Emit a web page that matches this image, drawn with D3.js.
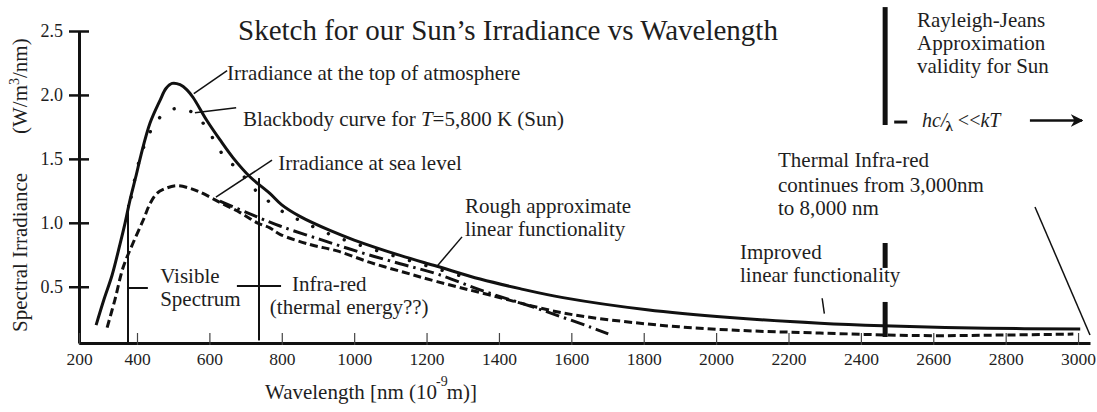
<!DOCTYPE html>
<html>
<head>
<meta charset="utf-8">
<script src="https://cdn.jsdelivr.net/npm/d3@7"></script>
<style>
  body { margin: 0; background: #fff; }
  svg { display: block; font-family: "Liberation Serif", "Times New Roman", serif; }
  text { fill: #1e1e1e; }
</style>
</head>
<body>
<div id="chart"></div>
<script>
// Wavelength (nm) / spectral irradiance (W/m^2/nm)
const topOfAtmosphere = [[259,0.20],[286,0.40],[314,0.59],[341,0.83],[359,1.00],[376,1.18],[397,1.37],[411,1.53],[436,1.78],[464,1.96],[480,2.05],[497,2.09],[519,2.08],[538,2.04],[555,1.98],[593,1.80],[629,1.65],[665,1.51],[712,1.36],[767,1.23],[800,1.14],[850,1.05],[933,0.94],[1000,0.865],[1127,0.745],[1229,0.66],[1348,0.56],[1458,0.485],[1577,0.415],[1809,0.32],[2038,0.26],[2287,0.215],[2461,0.195],[2749,0.175],[3006,0.17]]
const blackbody = [[380,1.20],[397,1.39],[411,1.53],[430,1.67],[455,1.80],[500,1.89],[549,1.87],[588,1.76],[616,1.63],[643,1.51],[682,1.41],[715,1.29],[754,1.19],[801,1.09],[864,1.00],[933,0.91],[1000,0.84],[1100,0.75],[1229,0.64],[1300,0.58]]
const seaLevel = [[297,0.18],[324,0.40],[352,0.65],[386,0.84],[417,1.02],[436,1.15],[455,1.23],[480,1.27],[511,1.29],[546,1.27],[574,1.24],[629,1.16],[685,1.08],[732,1.00],[767,0.96],[795,0.91],[878,0.83],[953,0.78],[1044,0.69],[1135,0.615],[1229,0.54],[1375,0.435],[1577,0.295],[1809,0.209],[2038,0.162],[2287,0.138],[2564,0.118],[2785,0.122],[2987,0.13]]
const roughLinear = [[629,1.17],[712,1.07],[795,0.975],[906,0.87],[1016,0.77],[1127,0.68],[1229,0.60],[1356,0.467],[1486,0.349],[1574,0.263],[1652,0.185],[1702,0.131]]

const xTicks = [200,400,600,800,1000,1200,1400,1600,1800,2000,2200,2400,2600,2800,3000]
const yTicks = [0.5,1.0,1.5,2.0,2.5]

// Annotation anchors, in data units
const visibleEdge = 369
const infraRedEdge = 737
const rayleighJeans = 2467

const width = 1097
const height = 412

const svg = d3.select('#chart')
  .append('svg')
  .attr('width', width)
  .attr('height', height)

// the sketch's axis is not quite evenly spaced below 400 nm
const x = d3.scaleLinear().domain([200, 400, 3033]).range([79, 137, 1090])
const y = d3.scaleLinear().domain([0.06, 2.5]).range([343, 31])

const line = d3.line()
  .x(d => x(d[0]))
  .y(d => y(d[1]))
  .curve(d3.curveCatmullRom.alpha(0.5))

// Curves
svg.append('path').datum(topOfAtmosphere)
  .attr('d', line).attr('fill', 'none').attr('stroke', '#111')
  .attr('stroke-width', 3)

svg.append('path').datum(blackbody)
  .attr('d', line).attr('fill', 'none').attr('stroke', '#111')
  .attr('stroke-width', 3.4).attr('stroke-linecap', 'round')
  .attr('stroke-dasharray', '0.1,17')

svg.append('path').datum(seaLevel)
  .attr('d', line).attr('fill', 'none').attr('stroke', '#111')
  .attr('stroke-width', 3).attr('stroke-dasharray', '8,4')

svg.append('path').datum(roughLinear)
  .attr('d', line).attr('fill', 'none').attr('stroke', '#111')
  .attr('stroke-width', 3).attr('stroke-dasharray', '14,5,2.5,5')

// Axes
const yAxis = svg.append('g')
  .attr('transform', `translate(${x(200)},0)`)
  .call(d3.axisLeft(y).tickValues(yTicks).tickFormat(d3.format('.1f'))
    .tickSize(10).tickSizeOuter(0).tickPadding(6))
yAxis.attr('font-family', null).attr('font-size', 18)
yAxis.select('.domain').attr('stroke', '#111').attr('stroke-width', 3)
yAxis.selectAll('.tick line').attr('x1', 10).attr('stroke', '#111').attr('stroke-width', 2.5)
yAxis.selectAll('.tick text').attr('fill', '#333')

const xAxis = svg.append('g')
  .attr('transform', `translate(0,${y(0.06)})`)
  .call(d3.axisBottom(x).tickValues(xTicks).tickFormat(d3.format('d'))
    .tickSize(-10).tickSizeOuter(0).tickPadding(10))
xAxis.attr('font-family', null).attr('font-size', 17.5)
xAxis.select('.domain').attr('stroke', '#111').attr('stroke-width', 3)
xAxis.selectAll('.tick line').attr('y1', 2).attr('stroke', '#444').attr('stroke-width', 1.2)
xAxis.selectAll('.tick text').attr('fill', '#333')

// Axis titles
svg.append('text')
  .attr('transform', 'translate(27,332) rotate(-90)')
  .attr('font-size', 21)
  .text('Spectral  Irradiance')

const yUnit = svg.append('text')
  .attr('transform', 'translate(27,134) rotate(-90)')
  .attr('font-size', 21)
yUnit.append('tspan').text('(W/m')
yUnit.append('tspan').attr('font-size', 14).attr('dy', -8).text('3')
yUnit.append('tspan').attr('dy', 8).text('/nm)')

const xTitle = svg.append('text')
  .attr('x', 265).attr('y', 399)
  .attr('font-size', 21)
xTitle.append('tspan').text('Wavelength [nm (10')
xTitle.append('tspan').attr('font-size', 14).attr('dy', -13).attr('dx', -1).text('-9')
xTitle.append('tspan').attr('dy', 13).attr('dx', -1).text('m)]')

svg.append('text')
  .attr('x', 238).attr('y', 40)
  .attr('font-size', 29)
  .text('Sketch for our Sun\u2019s Irradiance vs Wavelength')

// Leader lines and markers
const seg = (a, b, w) => svg.append('line')
  .attr('x1', x(a[0])).attr('y1', y(a[1]))
  .attr('x2', x(b[0])).attr('y2', y(b[1]))
  .attr('stroke', '#111').attr('stroke-width', w || 1.5)

seg([557, 2.01], [649, 2.19])
seg([560, 1.86], [674, 1.90])
seg([618, 1.20], [773, 1.49])
seg([1229, 0.66], [1298, 0.89])
seg([2293, 0.41], [2299, 0.29])
seg([2881, 1.124], [3033, 0.123])

// visible / infra-red boundaries
seg([visibleEdge, 1.14], [visibleEdge, 0.06], 2)
seg([visibleEdge, 0.49], [430, 0.49], 2)
seg([infraRedEdge, 1.35], [infraRedEdge, 0.08], 2)
seg([676, 0.506], [798, 0.506], 2)

// Rayleigh-Jeans limit bar
seg([rayleighJeans, 2.687], [rayleighJeans, 1.765], 5)
seg([rayleighJeans, 0.842], [rayleighJeans, 0.647], 5)
seg([rayleighJeans, 0.381], [rayleighJeans, 0.107], 5)
seg([2492, 1.788], [2528, 1.788], 3)

svg.append('defs').append('marker')
  .attr('id', 'arrow')
  .attr('viewBox', '0 0 10 10')
  .attr('refX', 9).attr('refY', 5)
  .attr('markerWidth', 5).attr('markerHeight', 5)
  .attr('orient', 'auto')
  .append('path')
  .attr('d', 'M0,0 L10,5 L0,10 L3,5 Z')
  .attr('fill', '#111')

seg([2867, 1.80], [3011, 1.80], 2.5).attr('marker-end', 'url(#arrow)')

// Annotation text
const label = (pos, lines, size) => {
  const t = svg.append('text')
    .attr('x', x(pos[0])).attr('y', y(pos[1]))
    .attr('font-size', size || 21)
  lines.forEach((s, i) => {
    t.append('tspan').attr('x', x(pos[0])).attr('dy', i === 0 ? 0 : 23).text(s)
  })
  return t
}

label([649, 2.12], ['Irradiance at the top of atmosphere'])

const bb = svg.append('text')
  .attr('x', x(693)).attr('y', y(1.76))
  .attr('font-size', 21)
bb.append('tspan').text('Blackbody curve for ')
bb.append('tspan').attr('font-style', 'italic').text('T')
bb.append('tspan').text('=5,800 K (Sun)')

label([790, 1.41], ['Irradiance at sea level'])
label([1306, 1.08], ['Rough approximate', 'linear functionality'])
label([464, 0.53], ['Visible', 'Spectrum'])
label([828, 0.465], ['Infra-red'])
label([767, 0.287], ['(thermal energy??)'])
label([2066, 0.72], ['Improved', 'linear functionality'])
label([2555, 2.531], ['Rayleigh-Jeans', 'Approximation', 'validity for Sun'])
label([2171, 1.436], ['Thermal Infra-red'])
label([2171, 1.241], ['continues from 3,000nm'])
label([2171, 1.061], ['to 8,000 nm'])

const rj = svg.append('text')
  .attr('x', x(2569)).attr('y', y(1.749))
  .attr('font-size', 20)
rj.append('tspan').attr('font-style', 'italic').text('hc/')
rj.append('tspan').attr('font-weight', 'bold').attr('font-size', 15).attr('dy', 4).attr('dx', -1).text('\u03bb')
rj.append('tspan').attr('dy', -4).text(' <<')
rj.append('tspan').attr('font-style', 'italic').text('kT')
</script>
</body>
</html>
